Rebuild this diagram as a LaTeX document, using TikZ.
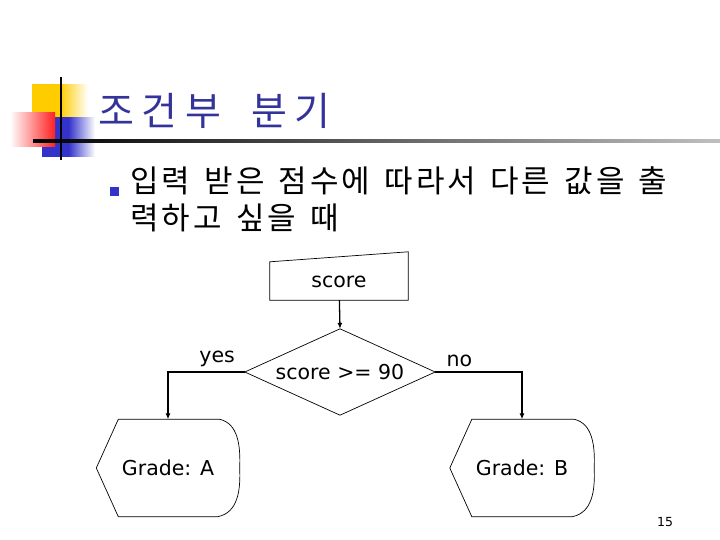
\documentclass[tikz,border=0pt]{standalone}
\usepackage{fontspec}
\setmainfont{DejaVu Sans}
\newfontfamily\krtitle[LetterSpace=20,WordSpace=1.8]{Noto Sans CJK KR}
\newfontfamily\krfont[LetterSpace=10,WordSpace=1.4]{Noto Sans CJK KR}
\usepackage{tikz}
\usetikzlibrary{arrows.meta,calc,positioning}
\definecolor{titlenavy}{HTML}{333399}
\definecolor{bulletblue}{HTML}{3333CC}
\definecolor{decoyellow}{HTML}{FFCC00}
\definecolor{decored}{HTML}{FF2020}

\tikzset{
  flowline/.style={line width=1.3pt,-{Latex[length=6pt,width=5pt]}},
  shapeline/.style={draw=black,line width=0.7pt},
  flowtext/.style={font=\fontsize{20.5}{24}\selectfont},
}

\begin{document}
\begin{tikzpicture}[x=1pt,y=-1pt]
  \useasboundingbox (0,0) rectangle (720,540);
  \fill[white] (0,0) rectangle (720,540);
  % title decoration
  \shade[left color=decoyellow,right color=white,middle color=decoyellow] (32,85) rectangle (88,118);
  \shade[left color=bulletblue,right color=white,middle color=bulletblue] (42,118) rectangle (95,157);
  \shade[left color=white,right color=decored] (10,113) rectangle (55,147);
  \shade[left color=black,right color=black!25] (33,140) rectangle (720,142.5);
  \draw[line width=2.5pt] (61,77) -- (61,160);
  \node[anchor=west,text=titlenavy,font=\krtitle\fontsize{39}{44}\selectfont,inner sep=0] (title) at (98,111) {조건부 분기};
  % bullet
  \fill[bulletblue] (110,187) rectangle (119,196);
  \node[anchor=north west,align=left,inner sep=0,font=\krfont\fontsize{31}{37}\selectfont] (intro) at (130,167)
    {입력 받은 점수에 따라서 다른 값을 출\\력하고 싶을 때};
  % flowchart
  \node[flowtext,minimum width=138pt,minimum height=36pt,inner sep=0] (score) at (339,282) {score};
  \draw[shapeline] (score.south west) -- (score.south east) -- ($(score.north east)+(0,-12)$) -- ($(score.north west)+(0,-2)$) -- cycle;
  \node[flowtext,minimum width=190pt,minimum height=86pt,inner sep=0] (cond) at (340,372) {score >= 90};
  \draw[shapeline] (cond.north) -- (cond.east) -- (cond.south) -- (cond.west) -- cycle;
  \node[flowtext,minimum width=143pt,minimum height=97pt,inner sep=0] (gradeA) at (168,468) {Grade: A};
  \node[flowtext,minimum width=144pt,minimum height=97pt,inner sep=0] (gradeB) at (522,468) {Grade: B};
  \foreach \g in {gradeA,gradeB}{
    \draw[shapeline] (\g.west) -- ($(\g.north west)+(22,0)$) -- ($(\g.north east)+(-20,0)$)
      .. controls ($(\g.north east)+(-2,4)$) and ($(\g.east)+(1,-23)$) .. (\g.east)
      .. controls ($(\g.east)+(1,23)$) and ($(\g.south east)+(-2,-4)$) .. ($(\g.south east)+(-22,0)$)
      -- ($(\g.south west)+(22,0)$) -- cycle;
  }
  \draw[flowline] (score) -- (cond.north);
  \draw[flowline] (cond.west) -| node[pos=0.18,above=1pt,flowtext] (yes) {yes} (gradeA.north);
  \draw[flowline] (cond.east) -| node[pos=0.14,above=1pt,flowtext] (no) {no} (gradeB.north);
  \node[font=\fontsize{12.5}{14}\selectfont] (page) at (665,522) {15};
\end{tikzpicture}
\end{document}
